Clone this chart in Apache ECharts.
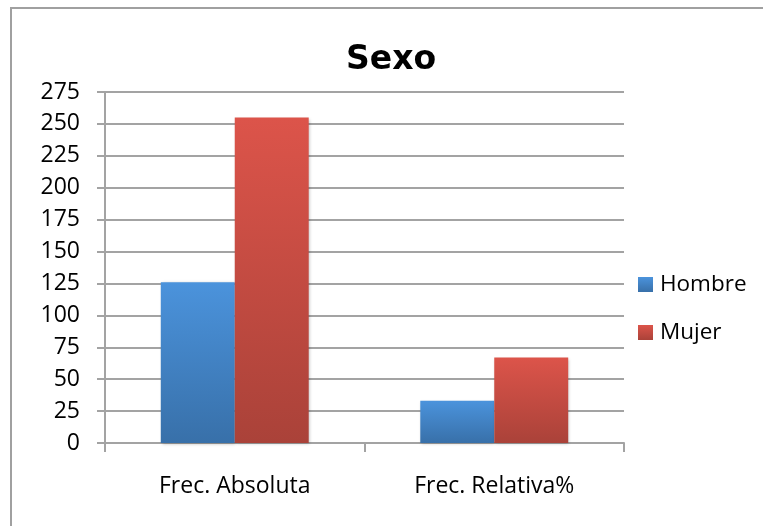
<!DOCTYPE html>
<html>
<head>
<meta charset="utf-8">
<script src="https://cdn.jsdelivr.net/npm/echarts@6/dist/echarts.min.js"></script>
<style>
  html, body { margin: 0; padding: 0; background: #fff; }
  #chart { width: 763px; height: 526px; }
</style>
</head>
<body>
<div id="chart"></div>
<script>
// Categories and series values
const categories = ['Frec. Absoluta', 'Frec. Relativa%'];
const hombre = [126, 33.07];
const mujer = [255, 66.93];
const seriesNames = ['Hombre', 'Mujer'];

const chart = echarts.init(document.getElementById('chart'));

const labelFont = '"Open Sans", sans-serif';
const gridGray = '#a3a3a3';

function vGrad(top, bottom) {
  return new echarts.graphic.LinearGradient(0, 0, 0, 1, [
    { offset: 0, color: top },
    { offset: 1, color: bottom }
  ]);
}
const blueFill = vGrad('#4b93dc', '#3870a9');
const redFill = vGrad('#dc544a', '#aa4239');

chart.setOption({
  animation: false,
  backgroundColor: '#ffffff',
  title: {
    text: 'Sexo',
    left: 346,
    top: 44,
    padding: 0,
    textStyle: {
      fontFamily: '"DejaVu Sans", sans-serif',
      fontWeight: 'bold',
      fontSize: 33,
      color: '#000'
    }
  },
  graphic: [{
    type: 'rect',
    shape: { x: 11, y: 8, width: 800, height: 600 },
    style: { fill: 'none', stroke: '#a0a0a0', lineWidth: 2 },
    silent: true
  }],
  legend: {
    orient: 'vertical',
    left: 638,
    top: 273,
    itemWidth: 15,
    itemHeight: 15,
    itemGap: 25,
    icon: 'rect',
    padding: 0,
    textStyle: {
      fontFamily: labelFont,
      fontSize: 22.5,
      color: '#000',
      padding: [0, 0, 0, 2]
    },
    data: seriesNames
  },
  grid: {
    left: 105,
    right: 139,
    top: 92,
    bottom: 83,
    containLabel: false
  },
  xAxis: {
    type: 'category',
    data: categories,
    axisLine: { lineStyle: { color: gridGray, width: 2 } },
    axisTick: { show: true, length: 9, lineStyle: { color: gridGray, width: 2 } },
    axisLabel: {
      margin: 32,
      fontFamily: labelFont,
      fontSize: 23,
      color: '#000'
    }
  },
  yAxis: {
    type: 'value',
    min: 0,
    max: 275,
    interval: 25,
    axisLine: { show: true, lineStyle: { color: gridGray, width: 2 } },
    axisTick: { show: true, length: 8, lineStyle: { color: gridGray, width: 2 } },
    splitLine: { lineStyle: { color: gridGray, width: 2 } },
    axisLabel: {
      margin: 25,
      fontFamily: labelFont,
      fontSize: 23,
      color: '#000'
    }
  },
  series: [
    {
      name: seriesNames[0],
      type: 'bar',
      data: hombre,
      barCategoryGap: '43%',
      barGap: '0%',
      itemStyle: {
        color: blueFill,
        shadowColor: 'rgba(0,0,0,0.25)',
        shadowBlur: 3,
        shadowOffsetX: 1,
        shadowOffsetY: 1
      }
    },
    {
      name: seriesNames[1],
      type: 'bar',
      data: mujer,
      barCategoryGap: '43%',
      barGap: '0%',
      itemStyle: {
        color: redFill,
        shadowColor: 'rgba(0,0,0,0.25)',
        shadowBlur: 3,
        shadowOffsetX: 1,
        shadowOffsetY: 1
      }
    }
  ]
});
</script>
</body>
</html>
